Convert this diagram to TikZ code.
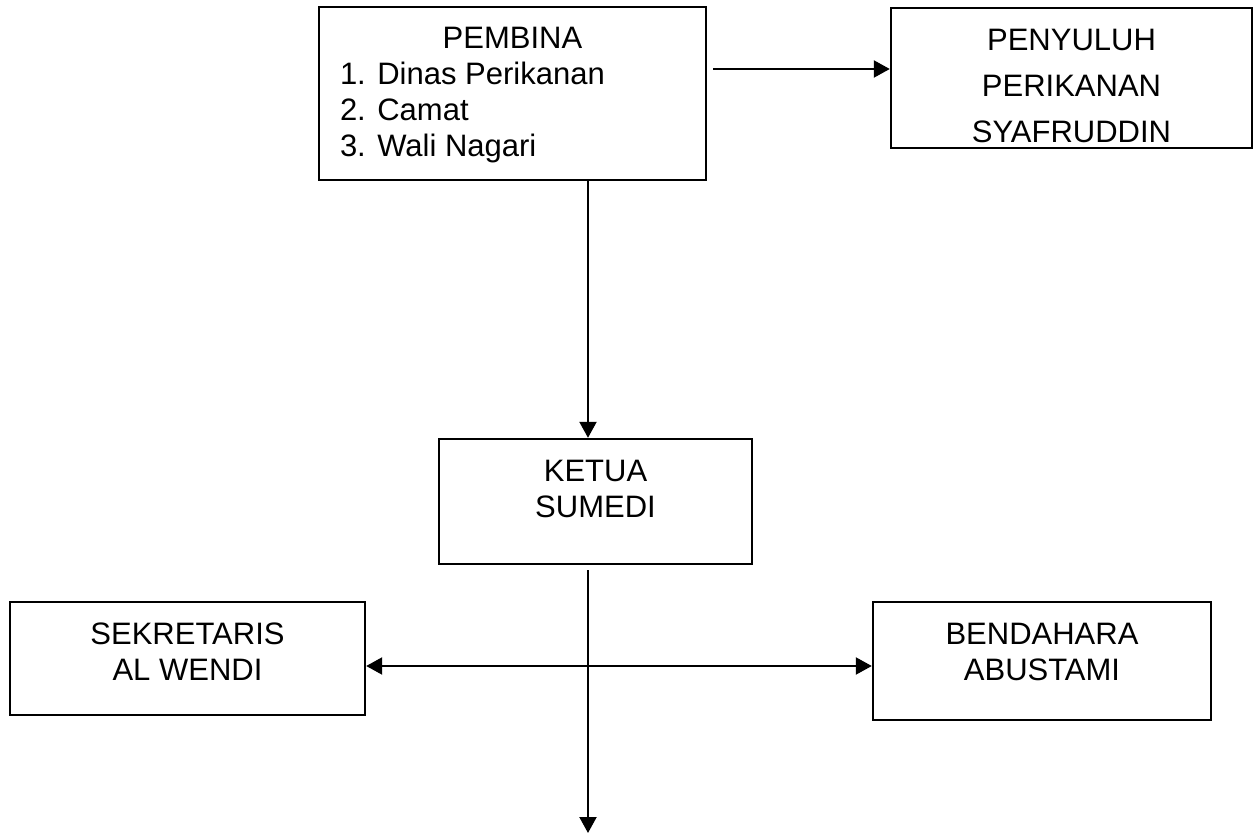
\documentclass[tikz,border=0pt]{standalone}
\usepackage{fontspec}
\setmainfont{Liberation Sans}
\usepackage{tikz}
\usetikzlibrary{arrows.meta}

\begin{document}
\begin{tikzpicture}[x=0.5pt, y=-0.5pt]
        \tikzstyle{box} = [draw, line width=1.2pt, inner sep=0pt, font=\fontsize{15.5pt}{18pt}\selectfont]
        \tikzstyle{arrow} = [-{Triangle[length=8pt, width=8.5pt]}, line width=1.1pt]
        \useasboundingbox (0,0) rectangle (1255,834);
        \node[box] (pembina) at (512.5,93.5) {\parbox[c][86.5pt][t]{193.5pt}{\vspace*{10pt}\centering PEMBINA\par\raggedright\hspace*{10.5pt}1. Dinas Perikanan\\\hspace*{10.5pt}2. Camat\\\hspace*{10.5pt}3. Wali Nagari}};
        \node[box] (penyuluh) at (1071.5,78) {\parbox[c][70pt][t]{180.5pt}{\fontsize{15.5pt}{23pt}\selectfont\vspace*{10.5pt}\centering PENYULUH\\PERIKANAN\\SYAFRUDDIN}};
        \node[box] (ketua) at (595.5,501.5) {\parbox[c][62.5pt][t]{156.5pt}{\vspace*{10.5pt}\centering KETUA\\SUMEDI}};
        \node[box] (sekretaris) at (187.5,658.5) {\parbox[c][56.5pt][t]{177.5pt}{\vspace*{10.5pt}\centering SEKRETARIS\\AL WENDI}};
        \node[box] (bendahara) at (1042,661) {\parbox[c][59pt][t]{169pt}{\vspace*{10.5pt}\centering BENDAHARA\\ABUSTAMI}};
        \coordinate (toprow) at (0,69);
        \coordinate (spine) at (588,0);
        \coordinate (hub) at (588,666);
        \coordinate (bottom) at (588,833);
        \draw[arrow, shorten <=3pt] (pembina.east |- toprow) -- (penyuluh.west |- toprow);
        \draw[arrow] (pembina.south -| spine) -- (ketua.north -| spine);
        \draw[arrow, shorten <=2.5pt] (ketua.south -| spine) -- (bottom);
        \draw[arrow] (hub) -- (sekretaris.east |- hub);
        \draw[arrow] ([xshift=-13pt]hub) -- (bendahara.west |- hub);
    \end{tikzpicture}
\end{document}
